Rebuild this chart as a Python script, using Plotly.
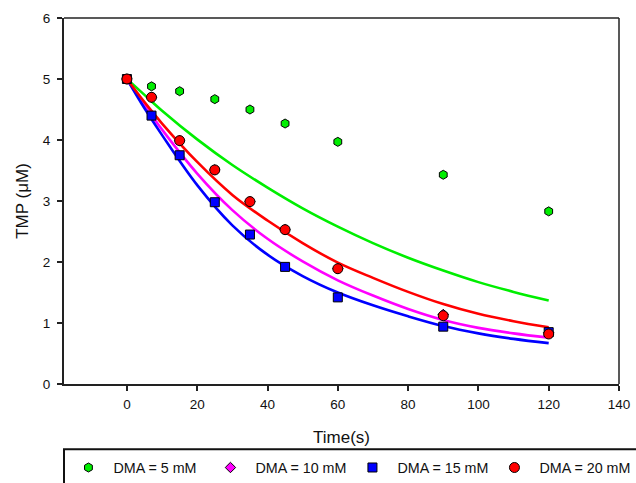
import plotly.graph_objects as go

# Measured TMP concentration (uM) vs time (s) at four DMA doses
time_pts = [0, 7, 15, 25, 35, 45, 60, 90, 120]
tmp_5mM = [5.00, 4.88, 4.80, 4.67, 4.50, 4.27, 3.97, 3.43, 2.83]
tmp_10mM = [5.00, 4.70, 3.99, 3.51, 2.99, 2.53, 1.89, 1.14, 0.84]
tmp_15mM = [5.00, 4.40, 3.75, 2.98, 2.45, 1.92, 1.42, 0.94, 0.85]
tmp_20mM = [5.00, 4.70, 3.99, 3.51, 2.99, 2.53, 1.89, 1.12, 0.82]

# Fitted decay curves, sampled along the time axis
fit_time = [0, 5, 10, 20, 30, 40, 50, 60, 70, 80, 90, 100, 110, 120]
fit_5mM = [5.00, 4.74, 4.48, 4.01, 3.59, 3.22, 2.88, 2.58, 2.31, 2.07, 1.86, 1.67, 1.51, 1.37]
fit_10mM = [5.00, 4.57, 4.17, 3.45, 2.85, 2.38, 2.01, 1.70, 1.45, 1.23, 1.05, 0.92, 0.83, 0.76]
fit_15mM = [5.00, 4.52, 4.08, 3.26, 2.60, 2.12, 1.77, 1.50, 1.29, 1.11, 0.95, 0.83, 0.74, 0.67]
fit_20mM = [5.00, 4.62, 4.27, 3.64, 3.10, 2.68, 2.31, 1.99, 1.74, 1.51, 1.31, 1.15, 1.03, 0.93]

series_names = ["DMA = 5 mM", "DMA = 10 mM", "DMA = 15 mM", "DMA = 20 mM"]
colors = ["#00ee00", "#ff00ff", "#0000ff", "#ff0000"]
symbols = ["hexagon", "diamond", "square", "circle"]
sizes = [9, 8, 9, 10]

x_ticks = [0, 20, 40, 60, 80, 100, 120, 140]
y_ticks = [0, 1, 2, 3, 4, 5, 6]

fig = go.Figure()

for fit, col in zip([fit_5mM, fit_10mM, fit_15mM, fit_20mM], colors):
    fig.add_trace(go.Scatter(
        x=fit_time, y=fit, mode="lines",
        line=dict(color=col, width=2.6, shape="spline", smoothing=1.0),
        showlegend=False, hoverinfo="skip",
    ))

for vals, name, col, sym, sz in zip([tmp_5mM, tmp_10mM, tmp_15mM, tmp_20mM],
                                    series_names, colors, symbols, sizes):
    fig.add_trace(go.Scatter(
        x=time_pts, y=vals, mode="markers", name=name,
        marker=dict(symbol=sym, size=sz, color=col,
                    line=dict(color="#000000", width=1)),
    ))

font_family = "Liberation Sans, Arial, sans-serif"

fig.update_layout(
    width=636, height=483,
    margin=dict(l=64, r=17, t=18, b=99, autoexpand=False),
    paper_bgcolor="white", plot_bgcolor="white",
    font=dict(family=font_family, color="#111111", size=13),
    xaxis=dict(
        range=[-17.9, 140], tickvals=x_ticks, ticks="outside", ticklen=5,
        tickwidth=1.5, tickcolor="#222222", showline=True, linecolor="#222222",
        linewidth=2, showgrid=False, zeroline=False, ticklabelstandoff=2,
        tickfont=dict(size=13.5), automargin=False,
        title=dict(text="Time(s)", font=dict(size=17), standoff=20),
    ),
    yaxis=dict(
        range=[0, 6], tickvals=y_ticks, ticks="outside", ticklen=5,
        tickwidth=1.5, tickcolor="#222222", showline=True, linecolor="#222222",
        linewidth=2, showgrid=False, zeroline=False, ticklabelstandoff=4,
        tickfont=dict(size=13.5), automargin=False,
        title=dict(text="TMP (μM)", font=dict(size=17), standoff=10),
    ),
    legend=dict(
        orientation="h", xref="paper", yref="paper",
        x=-0.001, y=-0.2287, xanchor="left", yanchor="middle",
        font=dict(size=14.3), itemwidth=40,
        entrywidth=87, entrywidthmode="pixels",
        borderwidth=0, bgcolor="rgba(0,0,0,0)",
    ),
    shapes=[
        # thin frame on the top and right of the plot area
        dict(type="line", xref="paper", yref="paper", x0=0, x1=1, y0=1, y1=1,
             line=dict(color="#222222", width=1.5)),
        dict(type="line", xref="paper", yref="paper", x0=1, x1=1, y0=0, y1=1,
             line=dict(color="#222222", width=1.5)),
        # legend frame running off the lower right of the page
        dict(type="rect", xref="paper", yref="paper", x0=0, x1=1.3,
             y0=-0.178, y1=-0.5, line=dict(color="#111111", width=2),
             fillcolor="rgba(0,0,0,0)", layer="below"),
    ],
)

fig.write_html("out.html")
